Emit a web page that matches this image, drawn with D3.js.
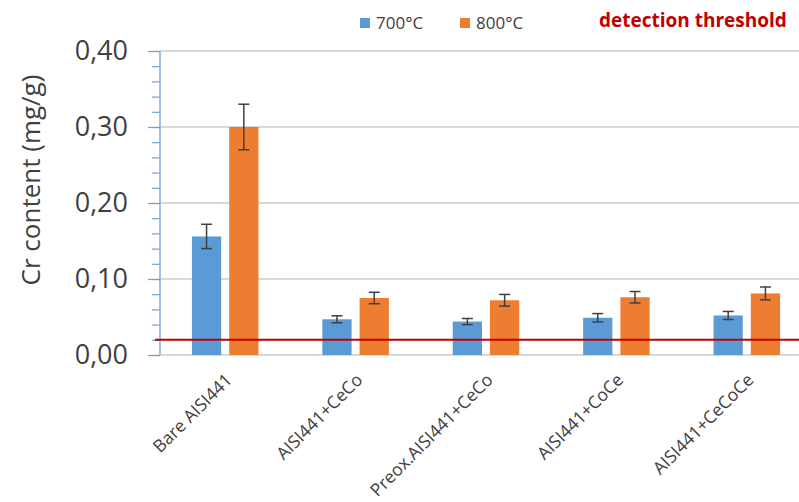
<!DOCTYPE html>
<html><head><meta charset="utf-8">
<script src="https://cdn.jsdelivr.net/npm/d3@7"></script>
<style>body{margin:0;background:#fff}svg{display:block;font-family:"Open Sans",sans-serif}</style>
</head><body>
<script>
const categories = ["Bare AISI441","AISI441+CeCo","Preox.AISI441+CeCo","AISI441+CoCe","AISI441+CeCoCe"];
const seriesNames = ["700°C","800°C"];
const values700 = [0.156, 0.047, 0.044, 0.049, 0.052];
const errors700 = [0.016, 0.0046, 0.004, 0.0055, 0.0053];
const values800 = [0.300, 0.075, 0.072, 0.076, 0.081];
const errors800 = [0.030, 0.0075, 0.0077, 0.0075, 0.0085];
const yTicks = [0, 0.1, 0.2, 0.3, 0.4];
const threshold = 0.02;
const colors = ["#5B9BD5", "#ED7D31"];

const W = 799, H = 502;
const svg = d3.select("body").append("svg").attr("width", W).attr("height", H);
const x0 = d3.scaleBand().domain(categories).range([160, 812]).paddingInner(0.49).paddingOuter(0.245);
const x1 = d3.scaleBand().domain(seriesNames).range([0, x0.bandwidth()]).paddingInner(0.215);
const y = d3.scaleLinear().domain([0, 0.4]).range([355, 51]);
const loc = d3.formatLocale({decimal: ",", thousands: ".", grouping: [3], currency: ["", ""]});
const fmt = loc.format(".2f");

// gridlines
svg.append("g").selectAll("line").data(yTicks).join("line")
  .attr("x1", 160).attr("x2", W).attr("y1", d => y(d)).attr("y2", d => y(d))
  .attr("stroke", "#D9D9D9").attr("stroke-width", 2);

// minor ticks
const minor = svg.append("g").attr("transform", "translate(160,0)")
  .call(d3.axisLeft(y).tickValues(d3.range(0, 0.401, 0.02)).tickSize(8).tickFormat(""));
minor.select(".domain").remove();
minor.selectAll("line").attr("stroke", "#6FA3D8").attr("stroke-width", 1.2);
// major
const major = svg.append("g").attr("transform", "translate(160,0)")
  .call(d3.axisLeft(y).tickValues(yTicks).tickSize(12).tickPadding(20).tickFormat(fmt));
major.select(".domain").attr("stroke", "#7FAEDC").attr("stroke-width", 1.5).attr("d", `M0,${y(0)}V${y(0.4)}`);
major.selectAll("line").attr("stroke", "#6FA3D8").attr("stroke-width", 1.2);
major.selectAll("text").attr("font-size", 27).attr("fill", "#404040").attr("font-family", "Open Sans");

// bars
const rows = categories.map((c, i) => ({c, v: [values700[i], values800[i]], e: [errors700[i], errors800[i]]}));
const g = svg.append("g");
rows.forEach(r => {
  seriesNames.forEach((s, j) => {
    const bx = x0(r.c) + x1(s);
    g.append("rect").attr("x", bx).attr("y", y(r.v[j])).attr("width", x1.bandwidth())
      .attr("height", y(0) - y(r.v[j])).attr("fill", colors[j]);
  });
});

// threshold
svg.append("line").attr("x1", 155).attr("x2", W).attr("y1", y(threshold)).attr("y2", y(threshold))
  .attr("stroke", "#C00000").attr("stroke-width", 2);

// error bars
rows.forEach(r => {
  seriesNames.forEach((s, j) => {
    const cx = x0(r.c) + x1(s) + x1.bandwidth() / 2;
    const t = y(r.v[j] + r.e[j]), b = y(r.v[j] - r.e[j]);
    const eg = svg.append("g").attr("stroke", "#404040").attr("stroke-width", 1.5);
    eg.append("line").attr("x1", cx).attr("x2", cx).attr("y1", t).attr("y2", b);
    eg.append("line").attr("x1", cx - 5.5).attr("x2", cx + 5.5).attr("y1", t).attr("y2", t);
    eg.append("line").attr("x1", cx - 5.5).attr("x2", cx + 5.5).attr("y1", b).attr("y2", b);
  });
});

// x labels
svg.append("g").selectAll("text").data(categories).join("text")
  .attr("transform", d => `translate(${x0(d) + x0.bandwidth() / 2 + 8},${381}) rotate(-45)`)
  .attr("text-anchor", "end").attr("font-size", 17.5).attr("fill", "#404040").text(d => d);

// y title
svg.append("text").attr("transform", "translate(40,180) rotate(-90)").attr("text-anchor", "middle")
  .attr("font-size", 26).attr("fill", "#404040").text("Cr content (mg/g)");

// legend
const lx = [360, 460];
seriesNames.forEach((s, j) => {
  svg.append("rect").attr("x", lx[j]).attr("y", 18).attr("width", 10).attr("height", 10).attr("fill", colors[j]);
  svg.append("text").attr("x", lx[j] + 16).attr("y", 29).attr("font-size", 17).attr("fill", "#404040").text(s);
});
svg.append("text").attr("x", 599).attr("y", 27).attr("font-size", 19).attr("font-weight", "bold")
  .attr("fill", "#C00000").text("detection threshold");
</script>
</body></html>
